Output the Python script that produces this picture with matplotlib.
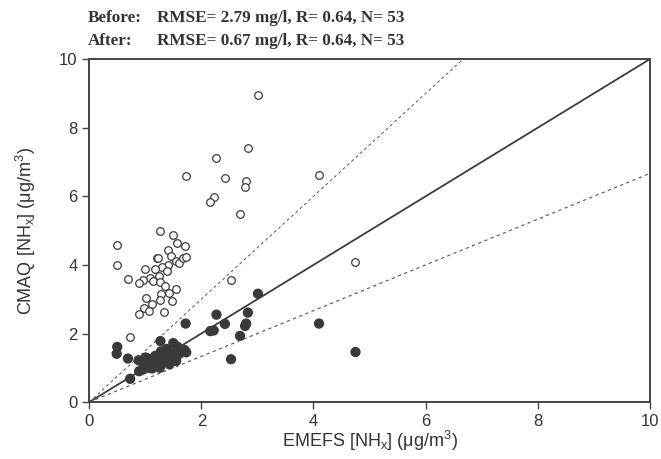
import numpy as np
import matplotlib
matplotlib.use('Agg')
import matplotlib.pyplot as plt

# EMEFS observations (x) with CMAQ before (open) and after (filled)
emefs = [3.01, 2.83, 2.27, 1.72, 2.42, 2.80, 2.78, 4.10, 2.22, 2.16, 2.69,
         4.75, 2.53, 0.73,
         1.27, 1.50, 0.50, 1.57, 1.70, 1.41, 1.21, 1.22, 1.46, 1.55, 1.60,
         1.68, 1.73, 0.49, 1.40, 1.29, 0.99, 1.18, 1.38, 1.25, 0.69, 1.09,
         0.96, 0.88, 1.13, 1.26, 1.36, 1.55, 1.28, 1.43, 1.01, 1.27, 1.47,
         1.12, 0.97, 1.06, 0.89, 1.34]
cmaq_before = [8.95, 7.42, 7.11, 6.59, 6.54, 6.46, 6.28, 6.63, 5.97, 5.85, 5.50,
               4.08, 3.55, 1.90,
               4.99, 4.88, 4.58, 4.63, 4.55, 4.45, 4.19, 4.20, 4.26, 4.11, 4.07,
               4.19, 4.23, 3.99, 4.01, 3.94, 3.87, 3.87, 3.81, 3.69, 3.59, 3.62,
               3.56, 3.47, 3.53, 3.49, 3.39, 3.29, 3.16, 3.17, 3.03, 2.97, 2.94,
               2.87, 2.74, 2.65, 2.57, 2.62]
cmaq_after = [3.16, 2.61, 2.55, 2.29, 2.28, 2.29, 2.22, 2.29, 2.09, 2.07, 1.93,
              1.46, 1.25, 0.68,
              1.78, 1.72, 1.61, 1.62, 1.52, 1.48, 1.12, 1.10, 1.38, 1.45, 1.40,
              1.48, 1.45, 1.41, 1.30, 1.42, 1.20, 1.35, 1.55, 1.25, 1.27, 1.05,
              0.95, 1.22, 1.28, 1.00, 1.18, 1.20, 1.48, 1.10, 1.30, 1.15, 1.25,
              0.98, 1.10, 1.00, 0.90, 1.35]

ticks = [0, 2, 4, 6, 8, 10]

fig = plt.figure(figsize=(6.61, 4.59), dpi=100)
ax = fig.add_axes([0.135, 0.124, 0.848, 0.747])

# reference lines: 1:1 and factor 1.5
xl = np.array([0, 10])
ax.plot(xl, xl, color='#3c3c3c', lw=1.3, zorder=1)
ax.plot(xl, 1.5 * xl, color='#555555', lw=0.7, ls=(0, (3, 3)), zorder=1)
ax.plot(xl, xl / 1.5, color='#555555', lw=0.8, ls=(0, (3, 3)), zorder=1)

ax.scatter(emefs, cmaq_before, s=30, facecolors='white', edgecolors='#3c3c3c',
           linewidths=0.9, zorder=3)
ax.scatter(emefs, cmaq_after, s=55, color='#3a3a3a', edgecolors='none', zorder=3)

ax.set_xlim(0, 10)
ax.set_ylim(0, 10)
ax.set_xticks(ticks)
ax.set_yticks(ticks)
ax.tick_params(direction='out', length=5, width=1, colors='#444444',
               labelcolor='#333333', labelsize=12)
for lab in ax.get_xticklabels() + ax.get_yticklabels():
    lab.set_family('Liberation Sans')
for sp in ax.spines.values():
    sp.set_color('#444444')
    sp.set_linewidth(1.4)

ax.set_xlabel(r'EMEFS [NH$_\mathregular{x}$] ($\mathregular{\mu}$g/m$^\mathregular{3}$)',
              family='Liberation Sans', fontsize=13, color='#333333', labelpad=0)
ax.set_ylabel(r'CMAQ [NH$_\mathregular{x}$] ($\mathregular{\mu}$g/m$^\mathregular{3}$)',
              family='Liberation Sans', fontsize=13, color='#333333', labelpad=15)

tkw = dict(family='Liberation Serif', weight='bold', fontsize=12.3, color='#333333')
fig.text(0.133, 0.952, 'Before:', **tkw)
fig.text(0.237, 0.952, 'RMSE= 2.79 mg/l, R= 0.64, N= 53', **tkw)
fig.text(0.133, 0.902, 'After:', **tkw)
fig.text(0.237, 0.902, 'RMSE= 0.67 mg/l, R= 0.64, N= 53', **tkw)

fig.savefig('out.png', dpi=100)
